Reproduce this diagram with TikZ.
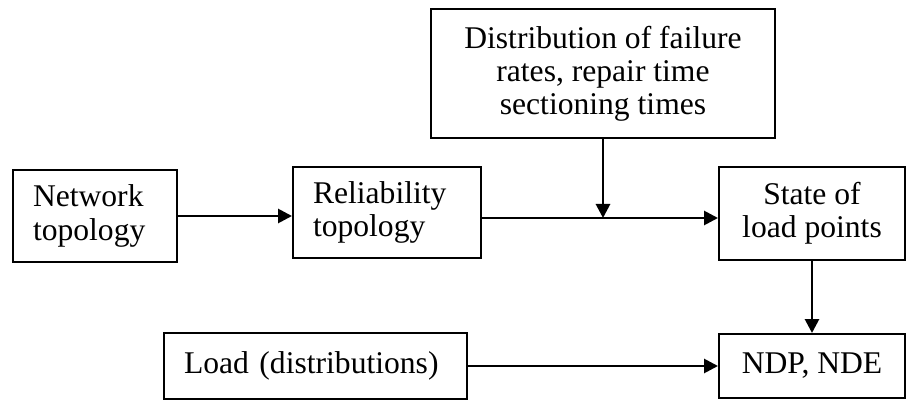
\documentclass[tikz,border=0pt]{standalone}
\usepackage{fontspec}
\setmainfont{Liberation Serif}
\usepackage{tikz}
\usetikzlibrary{positioning, arrows.meta, calc}
\tikzset{
  box/.style={
    draw=black, line width=1pt, inner xsep=10pt, inner ysep=2pt,
    font=\fontsize{15.8}{16.6}\selectfont,
  },
  lbox/.style={box, align=left},
  cbox/.style={box, align=center},
  flow/.style={draw=black, line width=1.4pt, -{Triangle[length=7pt, width=7pt]}},
}

\begin{document}
\begin{tikzpicture}[x=0.5pt, y=-0.5pt]
\useasboundingbox (0,0) rectangle (911,401);

\node[lbox, text width=62pt, minimum height=46pt] (net) at (95,216) {Network\\topology};
\node[lbox, text width=74pt, minimum height=45.5pt] (rel) at (387,212.5) {Reliability\\topology};
\node[cbox, minimum width=172pt, minimum height=64.5pt] (dist) at (603,73.5)
  {Distribution of failure\\rates, repair time\\sectioning times};
\node[cbox, minimum width=93pt, minimum height=46.5pt] (state) at (812,213.5) {State of\\load points};
\node[lbox, text width=131.5pt, minimum height=33pt] (load) at (315.5,366) {Load (distributions)};
\node[cbox, minimum width=93pt, minimum height=32pt] (ndp) at (812,366) {NDP, NDE};

\coordinate (j) at (603,218);

\draw[flow] (net) -- (net -| rel.west);
\draw[flow] (rel.east |- j) -- (state.west |- j);
\draw[flow] (dist) -- (j);
\draw[flow] (state) -- (ndp);
\draw[flow] (load) -- (ndp);

\end{tikzpicture}
\end{document}
